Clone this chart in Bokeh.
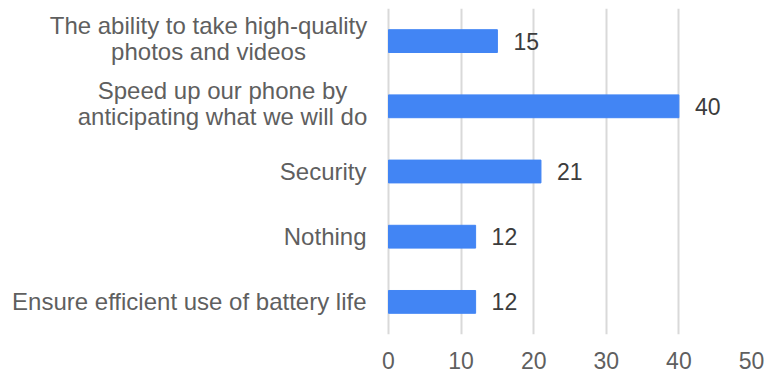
from bokeh.plotting import figure
from bokeh.models import ColumnDataSource, FactorRange, LabelSet
from bokeh.core.properties import value
from bokeh.embed import file_html
from bokeh.resources import INLINE

categories = [
    "The ability to take high-quality\nphotos and videos",
    "Speed up our phone by\nanticipating what we will do",
    "Security",
    "Nothing",
    "Ensure efficient use of battery life",
]
values = [15, 40, 21, 12, 12]
x_ticks = [0, 10, 20, 30, 40, 50]

FONT = "Liberation Sans"
GRAY = "#5f5f5f"
DARK = "#3c3c3c"

# layout (pixels)
W, H = 766, 374
FRAME_LEFT = 388          # where value 0 sits
FRAME_RIGHT_PAD = 15
plot_px = W - FRAME_LEFT - FRAME_RIGHT_PAD
x_max = x_ticks[-1]
x_start = -x_max * FRAME_LEFT / plot_px   # room on the left for category labels

src = ColumnDataSource(dict(cat=categories, val=values, lab=[str(v) for v in values]))

p = figure(width=W, height=H, output_backend="svg", toolbar_location=None,
           y_range=FactorRange(*categories[::-1]), x_range=(x_start, x_max),
           min_border_left=0, min_border_right=FRAME_RIGHT_PAD, min_border_top=8,
           min_border_bottom=40)
p.outline_line_color = None
p.background_fill_color = "white"
p.border_fill_color = "white"
p.yaxis.visible = False

p.hbar(y="cat", right="val", left=0, height=0.35, source=src, color="#4285F4")

p.add_layout(LabelSet(x="val", y="cat", text="lab", source=src, x_offset=16,
                      text_align="left", text_baseline="middle",
                      text_font=value(FONT), text_font_size="23px", text_color=DARK))

p.xaxis.ticker = x_ticks
p.xaxis.axis_line_color = None
p.xaxis.major_tick_line_color = None
p.xaxis.minor_tick_line_color = None
p.xaxis.major_label_standoff = 11
p.xaxis.major_label_text_font = FONT
p.xaxis.major_label_text_font_size = "23px"
p.xaxis.major_label_text_color = GRAY

# category labels: single-line right-aligned, two-line centred line by line
single = dict(cat=[], txt=[], x0=[])
double = dict(cat=[], txt=[], x0=[], xo=[], yo=[])
centre_offsets = {categories[0]: -180, categories[1]: -166}
line_offsets = [-15.5, 10.5]
for c in categories:
    parts = c.split("\n")
    if len(parts) == 1:
        single["cat"].append(c); single["txt"].append(c); single["x0"].append(0)
    else:
        for ln, yo in zip(parts, line_offsets):
            double["cat"].append(c); double["txt"].append(ln); double["x0"].append(0)
            double["xo"].append(centre_offsets[c]); double["yo"].append(yo)

p.text(x="x0", y="cat", text="txt", source=ColumnDataSource(single), x_offset=-22,
       text_align="right", text_baseline="middle",
       text_font=value(FONT), text_font_size="24px", text_color=GRAY)
p.text(x="x0", y="cat", text="txt", source=ColumnDataSource(double), x_offset="xo",
       y_offset="yo", text_align="center", text_baseline="middle",
       text_font=value(FONT), text_font_size="24px", text_color=GRAY)

p.ygrid.grid_line_color = None
p.xgrid.grid_line_color = "#d9d9d9"
p.xgrid.grid_line_width = 2

open("out.html", "w").write(file_html(p, INLINE))
